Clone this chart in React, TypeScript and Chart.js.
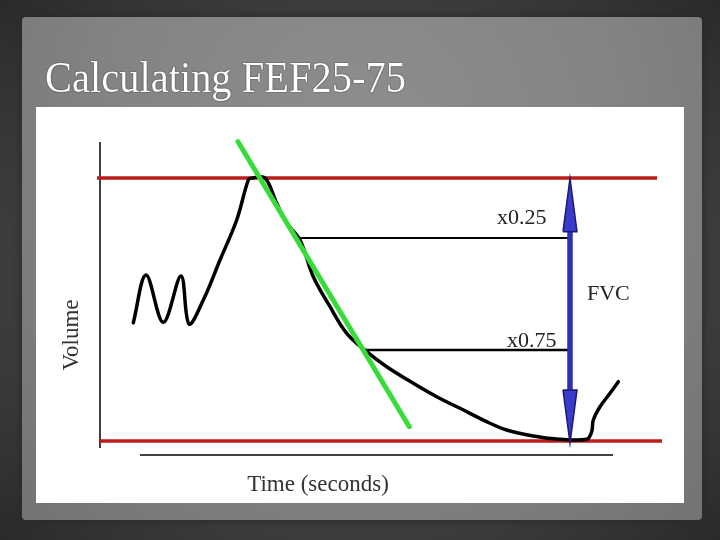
import React, { useEffect, useRef } from "react";
import { Chart, registerables } from "chart.js";

Chart.register(...registerables);

// ---- text ----
const slideTitle = "Calculating FEF25-75";
const xAxisTitle = "Time (seconds)";
const yAxisTitle = "Volume";

// ---- traced spirogram: time (s) and volume (% of FVC) ----
const curveTime = [
  0.666, 0.92, 1.266, 1.62, 1.78, 2.066, 2.4, 2.734, 2.966, 3.04, 3.3,
  3.534, 3.734, 4.0, 4.266, 4.6, 4.934, 5.334, 5.734, 6.266, 6.734, 7.2, 7.734, 8.134,
  8.666, 9.134, 9.734, 9.834, 9.866, 10.0, 10.2, 10.366,
];
const curveVolume = [
  44.98, 63.12, 45.13, 62.74, 44.49, 53.61, 68.82, 84.03, 99.24, 100, 100,
  90.38, 82.78, 76.43, 62.47, 51.06, 40.95, 33.95, 28.25, 21.94, 16.84, 12.43, 7.34, 4.18,
  1.9, 0.76, 0.65, 3.54, 7.98, 13.04, 18.14, 22.55,
];

// ---- tangent (green) ----
const tangentTime = [2.76, 6.186];
const tangentVolume = [113.8, 5.44];

// ---- FVC limits (red) ----
const fvcTopTime = [-0.06, 11.14];
const fvcTopVolume = [100, 100];
const fvcBottomTime = [0, 11.24];
const fvcBottomVolume = [0, 0];

// ---- 25% / 75% markers ----
const quarterTime = [4.0, 9.4];
const quarterVolume = [77.19, 77.19];
const threeQuarterTime = [5.3, 9.4];
const threeQuarterVolume = [34.6, 34.6];

// ---- drawn axes ----
const yAxisLineTime = [0, 0];
const yAxisLineVolume = [113.7, -2.66];
const xAxisLineTime = [0.8, 10.26];
const xAxisLineVolume = [-5.32, -5.32];

// ---- FVC double arrow ----
const arrowShaftTime = [9.4, 9.4];
const arrowShaftVolume = [80, 19.5];
const arrowTopTime = [9.26, 9.4, 9.54, 9.26];
const arrowTopVolume = [79.58, 99.9, 79.58, 79.58];
const arrowBottomTime = [9.26, 9.4, 9.54, 9.26];
const arrowBottomVolume = [19.39, -0.76, 19.39, 19.39];

// ---- annotations ----
const noteText = ["x0.25", "x0.75", "FVC"];
const noteTime = [7.94, 8.14, 9.74];
const noteVolume = [82.5, 35.74, 53.6];

// ---- axis ranges ----
const timeMin = -1.28;
const timeMax = 11.68;
const volumeMin = -23.574;
const volumeMax = 126.996;

const pts = (xs: number[], ys: number[]) => xs.map((x, i) => ({ x, y: ys[i] }));

const textPlugin = {
  id: "slideText",
  afterDatasetsDraw(chart: any) {
    const { ctx, scales } = chart;
    const xs = scales.x;
    const ys = scales.y;
    ctx.save();
    ctx.fillStyle = "#222";
    ctx.font = "22px 'Liberation Serif', serif";
    ctx.textAlign = "left";
    ctx.textBaseline = "alphabetic";
    noteText.forEach((t, i) => {
      ctx.fillText(t, xs.getPixelForValue(noteTime[i]), ys.getPixelForValue(noteVolume[i]));
    });
    ctx.fillStyle = "#333";
    ctx.font = "23px 'Liberation Serif', serif";
    ctx.textAlign = "center";
    ctx.fillText(xAxisTitle, xs.getPixelForValue(4.36), ys.getPixelForValue(-19.0));
    ctx.translate(xs.getPixelForValue(-0.44), ys.getPixelForValue(40.3));
    ctx.rotate(-Math.PI / 2);
    ctx.fillText(yAxisTitle, 0, 0);
    ctx.restore();
  },
};

const line = (data: any, color: string, width: number, order: number, extra: any = {}) => ({
  data,
  showLine: true,
  borderColor: color,
  borderWidth: width,
  pointRadius: 0,
  pointHoverRadius: 0,
  fill: false,
  tension: 0,
  order,
  ...extra,
});

export default function App() {
  const ref = useRef<HTMLCanvasElement>(null);

  useEffect(() => {
    if (!ref.current) return;
    const chart = new Chart(ref.current, {
      type: "scatter",
      data: {
        datasets: [
          line(pts(arrowTopTime, arrowTopVolume), "#1a1a70", 1.5, 0, {
            fill: "shape",
            backgroundColor: "#3a3acc",
          }),
          line(pts(arrowBottomTime, arrowBottomVolume), "#1a1a70", 1.5, 0, {
            fill: "shape",
            backgroundColor: "#3a3acc",
          }),
          line(pts(arrowShaftTime, arrowShaftVolume), "#2e2eb4", 5.5, 1),
          line(pts(tangentTime, tangentVolume), "#38dc38", 5, 2, { borderCapStyle: "round" }),
          line(pts(curveTime, curveVolume), "#000000", 3.5, 3, {
            tension: 0.35,
            borderCapStyle: "round",
            borderJoinStyle: "round",
          }),
          line(pts(quarterTime, quarterVolume), "#000000", 2, 4),
          line(pts(threeQuarterTime, threeQuarterVolume), "#000000", 2.5, 4),
          line(pts(fvcTopTime, fvcTopVolume), "#bc1c1c", 3.5, 5),
          line(pts(fvcBottomTime, fvcBottomVolume), "#bc1c1c", 3.5, 5),
          line(pts(yAxisLineTime, yAxisLineVolume), "#000000", 1.5, 6),
          line(pts(xAxisLineTime, xAxisLineVolume), "#000000", 1.5, 6),
        ],
      },
      options: {
        animation: false,
        responsive: false,
        maintainAspectRatio: false,
        layout: { padding: 0 },
        plugins: { legend: { display: false }, tooltip: { enabled: false }, title: { display: false } },
        scales: {
          x: { type: "linear", min: timeMin, max: timeMax, display: false },
          y: { type: "linear", min: volumeMin, max: volumeMax, display: false },
        },
      },
      plugins: [textPlugin],
    });
    return () => chart.destroy();
  }, []);

  return (
    <div
      style={{
        position: "fixed",
        left: 0,
        top: 0,
        width: 720,
        height: 540,
        overflow: "hidden",
        background: "radial-gradient(ellipse at 50% 50%, #4a4a4a 0%, #3c3c3c 70%, #2a2a2a 100%)",
      }}
    >
      <div
        style={{
          position: "absolute",
          left: 22,
          top: 17,
          width: 680,
          height: 503,
          background: "radial-gradient(ellipse at 50% 25%, #8e8e8e 0%, #838383 55%, #737373 100%)",
          boxShadow: "0 0 6px 3px rgba(40,40,40,0.6)",
          borderRadius: 4,
        }}
      />
      <div
        style={{
          position: "absolute",
          left: 45,
          top: 56,
          fontFamily: "'Liberation Serif', serif",
          fontSize: 44,
          lineHeight: "44px",
          color: "#ffffff",
          whiteSpace: "nowrap",
          transform: "scaleX(0.92)",
          transformOrigin: "left top",
          textShadow: "0 0 1px #222, 0 0 1px #222",
        }}
      >
        {slideTitle}
      </div>
      <canvas
        ref={ref}
        width={648}
        height={396}
        style={{ position: "absolute", left: 36, top: 107, width: 648, height: 396, background: "#ffffff" }}
      />
    </div>
  );
}
